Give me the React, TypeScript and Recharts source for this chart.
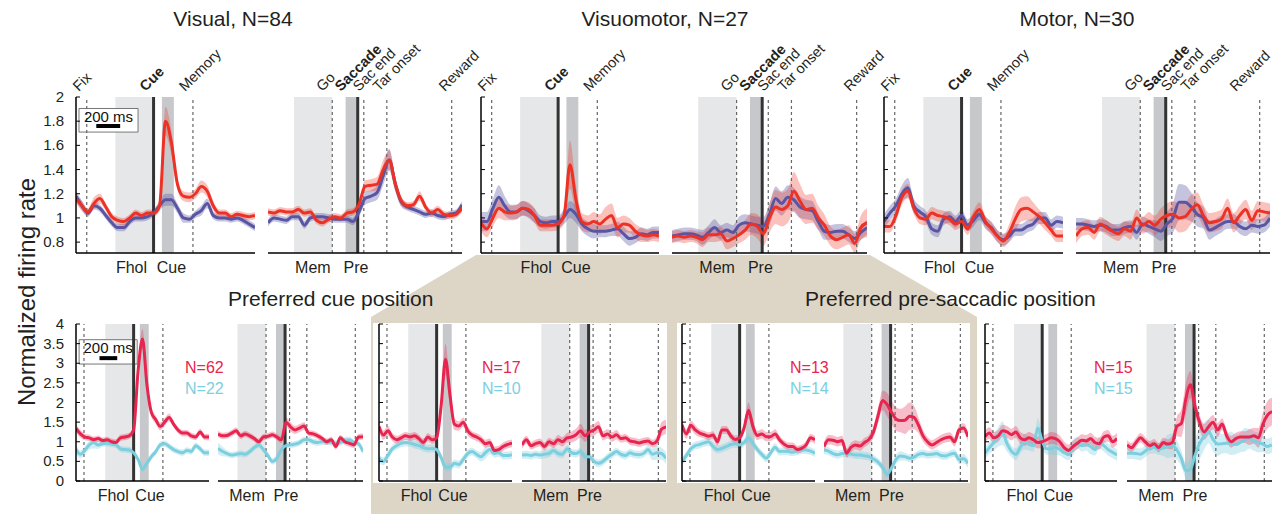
import React from 'react';
import { ComposedChart, Line, Area, XAxis, YAxis, ReferenceLine, ReferenceArea } from 'recharts';

const FONT = '"Liberation Sans", Arial, Helvetica, sans-serif';

// time bins (ms), cue-aligned and saccade-aligned
const cueTimes = [-650, -600, -550, -500, -450, -400, -350, -300, -250, -200, -150, -100, -50, 0, 50, 100, 150, 200, 250, 300, 350, 400, 450, 500, 550, 600, 650, 700, 750, 800, 850];
const sacTimes = [-740, -690, -640, -590, -540, -490, -440, -390, -340, -290, -240, -190, -140, -90, -40, 10, 60, 110, 160, 210, 260, 310, 360, 410, 460, 510, 560, 610, 660, 710, 760, 810, 860];

const topTicks = [0.8, 1, 1.2, 1.4, 1.6, 1.8, 2];
const botTicks = [0, 0.5, 1, 1.5, 2, 2.5, 3, 3.5, 4];

// ---- top row: Visual ----
const visCueRed = [1.16, 1.10, 1.05, 1.12, 1.16, 1.09, 1.01, 0.98, 0.97, 1.00, 1.04, 1.02, 1.04, 1.04, 1.10, 1.80, 1.62, 1.28, 1.18, 1.17, 1.20, 1.26, 1.22, 1.10, 1.04, 1.04, 1.01, 1.03, 1.02, 1.01, 1.02];
const visCueRedSem = [0.04, 0.04, 0.03, 0.05, 0.04, 0.03, 0.03, 0.03, 0.03, 0.03, 0.03, 0.03, 0.03, 0.03, 0.04, 0.12, 0.10, 0.05, 0.04, 0.04, 0.04, 0.05, 0.05, 0.04, 0.03, 0.03, 0.03, 0.03, 0.03, 0.03, 0.03];
const visCueBlue = [1.18, 1.10, 1.04, 1.10, 1.08, 1.02, 0.96, 0.92, 0.92, 0.97, 1.00, 1.00, 1.01, 1.04, 1.10, 1.15, 1.15, 1.08, 1.00, 0.99, 1.03, 1.06, 1.12, 1.02, 1.00, 1.00, 0.99, 1.00, 0.98, 0.95, 0.92];
const visCueBlueSem = [0.04, 0.04, 0.03, 0.03, 0.03, 0.03, 0.03, 0.03, 0.03, 0.03, 0.03, 0.03, 0.03, 0.03, 0.04, 0.05, 0.05, 0.04, 0.04, 0.03, 0.03, 0.04, 0.04, 0.03, 0.03, 0.03, 0.03, 0.03, 0.03, 0.03, 0.03];
const visSacRed = [1.05, 1.04, 1.06, 1.05, 1.05, 1.07, 1.04, 1.05, 0.98, 0.96, 0.99, 1.01, 1.00, 1.04, 1.05, 1.11, 1.26, 1.27, 1.28, 1.40, 1.48, 1.28, 1.14, 1.10, 1.11, 1.18, 1.09, 1.04, 1.07, 1.03, 1.02, 1.03, 1.08];
const visSacRedSem = [0.03, 0.03, 0.03, 0.03, 0.03, 0.03, 0.03, 0.03, 0.03, 0.03, 0.03, 0.03, 0.03, 0.03, 0.03, 0.04, 0.05, 0.05, 0.06, 0.08, 0.08, 0.06, 0.04, 0.03, 0.03, 0.04, 0.03, 0.03, 0.03, 0.03, 0.03, 0.03, 0.03];
const visSacBlue = [0.96, 1.00, 0.99, 0.98, 1.01, 1.01, 0.94, 1.00, 1.01, 1.01, 1.00, 0.99, 0.99, 0.99, 0.97, 1.05, 1.16, 1.18, 1.21, 1.35, 1.48, 1.28, 1.13, 1.09, 1.07, 1.05, 1.03, 1.04, 1.02, 1.01, 1.03, 1.04, 1.11];
const visSacBlueSem = [0.03, 0.03, 0.03, 0.03, 0.03, 0.03, 0.03, 0.03, 0.03, 0.03, 0.03, 0.03, 0.03, 0.03, 0.03, 0.04, 0.05, 0.05, 0.06, 0.08, 0.09, 0.06, 0.04, 0.03, 0.03, 0.03, 0.03, 0.03, 0.03, 0.03, 0.03, 0.03, 0.03];

// ---- top row: Visuomotor ----
const vmCueRed = [0.96, 0.91, 1.00, 1.08, 1.05, 1.04, 1.05, 1.08, 1.07, 1.02, 0.94, 0.94, 0.94, 0.95, 1.02, 1.44, 1.15, 0.97, 0.95, 0.97, 0.95, 0.99, 1.02, 0.92, 0.95, 0.94, 0.89, 0.86, 0.85, 0.86, 0.85];
const vmCueRedSem = [0.07, 0.07, 0.07, 0.08, 0.07, 0.06, 0.06, 0.06, 0.06, 0.06, 0.05, 0.05, 0.05, 0.05, 0.06, 0.20, 0.12, 0.07, 0.07, 0.08, 0.08, 0.10, 0.10, 0.08, 0.07, 0.06, 0.06, 0.06, 0.05, 0.05, 0.05];
const vmCueBlue = [0.97, 0.97, 1.08, 1.17, 1.10, 1.05, 1.05, 1.08, 1.06, 1.02, 0.97, 0.96, 0.97, 0.97, 1.01, 1.07, 1.03, 0.95, 0.91, 0.89, 0.89, 0.89, 0.90, 0.91, 0.87, 0.83, 0.84, 0.87, 0.86, 0.88, 0.88];
const vmCueBlueSem = [0.08, 0.08, 0.08, 0.10, 0.08, 0.06, 0.06, 0.06, 0.06, 0.06, 0.05, 0.05, 0.05, 0.05, 0.06, 0.07, 0.07, 0.06, 0.06, 0.06, 0.05, 0.05, 0.05, 0.06, 0.06, 0.06, 0.05, 0.05, 0.05, 0.05, 0.05];
const vmSacRed = [0.84, 0.85, 0.84, 0.85, 0.84, 0.82, 0.86, 0.86, 0.87, 0.81, 0.83, 0.86, 0.90, 0.95, 0.93, 0.87, 1.00, 1.09, 1.07, 1.10, 1.22, 1.14, 1.07, 1.08, 1.00, 0.94, 0.85, 0.82, 0.84, 0.86, 0.79, 0.92, 0.96];
const vmSacRedSem = [0.05, 0.05, 0.05, 0.05, 0.05, 0.06, 0.06, 0.06, 0.06, 0.07, 0.07, 0.07, 0.08, 0.09, 0.10, 0.10, 0.12, 0.14, 0.14, 0.14, 0.16, 0.14, 0.12, 0.12, 0.10, 0.09, 0.08, 0.08, 0.08, 0.08, 0.08, 0.10, 0.12];
const vmSacBlue = [0.85, 0.86, 0.87, 0.87, 0.86, 0.84, 0.88, 0.92, 0.88, 0.90, 0.88, 0.94, 0.96, 0.95, 0.94, 0.93, 1.03, 1.16, 1.12, 1.17, 1.15, 1.09, 1.07, 1.06, 0.97, 0.89, 0.88, 0.89, 0.89, 0.86, 0.83, 0.88, 0.92];
const vmSacBlueSem = [0.05, 0.05, 0.05, 0.05, 0.05, 0.06, 0.06, 0.07, 0.06, 0.06, 0.06, 0.07, 0.07, 0.07, 0.07, 0.08, 0.09, 0.10, 0.10, 0.10, 0.10, 0.09, 0.08, 0.08, 0.07, 0.07, 0.06, 0.06, 0.06, 0.06, 0.06, 0.06, 0.06];

// ---- top row: Motor ----
const motCueRed = [0.93, 0.93, 1.02, 1.17, 1.22, 1.08, 1.00, 0.99, 1.04, 1.02, 1.01, 0.99, 0.95, 0.97, 0.91, 1.01, 1.07, 0.97, 0.91, 0.85, 0.81, 0.88, 0.99, 1.07, 1.08, 1.05, 1.01, 0.96, 0.90, 0.85, 0.85];
const motCueRedSem = [0.05, 0.05, 0.05, 0.06, 0.06, 0.05, 0.05, 0.05, 0.05, 0.05, 0.05, 0.05, 0.05, 0.05, 0.05, 0.05, 0.06, 0.05, 0.05, 0.05, 0.05, 0.07, 0.10, 0.10, 0.10, 0.08, 0.06, 0.06, 0.05, 0.05, 0.05];
const motCueBlue = [0.97, 1.04, 1.10, 1.20, 1.25, 1.10, 1.05, 1.01, 0.91, 0.89, 0.99, 1.01, 0.97, 1.02, 0.94, 0.98, 1.03, 0.96, 0.92, 0.85, 0.82, 0.85, 0.90, 0.90, 0.93, 0.95, 1.00, 1.00, 0.94, 0.97, 0.96];
const motCueBlueSem = [0.06, 0.06, 0.06, 0.07, 0.08, 0.06, 0.05, 0.05, 0.05, 0.05, 0.05, 0.05, 0.05, 0.05, 0.05, 0.05, 0.05, 0.05, 0.05, 0.05, 0.05, 0.05, 0.05, 0.05, 0.05, 0.05, 0.05, 0.05, 0.05, 0.05, 0.05];
const motSacRed = [0.85, 0.91, 0.92, 0.88, 0.95, 0.92, 0.89, 0.87, 0.91, 0.89, 1.00, 0.94, 0.97, 0.94, 0.99, 1.02, 1.03, 1.00, 1.01, 1.07, 1.11, 1.02, 0.96, 0.97, 0.99, 1.08, 0.96, 1.02, 1.07, 0.98, 1.06, 1.05, 1.04];
const motSacRedSem = [0.06, 0.06, 0.06, 0.06, 0.06, 0.06, 0.06, 0.06, 0.06, 0.07, 0.07, 0.07, 0.08, 0.08, 0.09, 0.10, 0.11, 0.12, 0.12, 0.12, 0.10, 0.09, 0.08, 0.08, 0.08, 0.08, 0.08, 0.08, 0.08, 0.08, 0.08, 0.08, 0.08];
const motSacBlue = [0.95, 0.95, 0.94, 0.93, 0.94, 0.93, 0.90, 0.90, 0.92, 0.93, 0.88, 0.95, 0.93, 0.91, 0.89, 0.95, 1.00, 1.13, 1.13, 1.09, 1.03, 1.00, 0.90, 0.92, 0.95, 0.97, 0.97, 0.93, 0.91, 0.94, 0.93, 0.94, 1.00];
const motSacBlueSem = [0.05, 0.05, 0.05, 0.05, 0.05, 0.05, 0.05, 0.05, 0.05, 0.05, 0.06, 0.06, 0.06, 0.07, 0.08, 0.10, 0.12, 0.15, 0.14, 0.12, 0.10, 0.09, 0.08, 0.07, 0.07, 0.06, 0.06, 0.06, 0.06, 0.06, 0.06, 0.06, 0.07];

// ---- bottom row, group 1 (N=62 / N=22) ----
const b1CueRed = [1.34, 1.20, 1.12, 1.10, 1.05, 1.08, 1.03, 1.05, 1.00, 0.98, 1.10, 1.12, 1.15, 1.30, 2.80, 3.62, 2.45, 1.75, 1.56, 1.39, 1.50, 1.62, 1.45, 1.30, 1.22, 1.22, 1.15, 1.12, 1.25, 1.12, 1.12];
const b1CueRedSem = [0.10, 0.10, 0.08, 0.08, 0.08, 0.08, 0.08, 0.08, 0.08, 0.08, 0.08, 0.08, 0.08, 0.10, 0.20, 0.25, 0.20, 0.12, 0.10, 0.10, 0.10, 0.10, 0.08, 0.08, 0.08, 0.08, 0.08, 0.08, 0.08, 0.08, 0.08];
const b1CueCyan = [0.80, 0.68, 0.78, 0.92, 0.98, 0.92, 0.95, 0.96, 0.94, 0.92, 0.82, 0.80, 0.79, 0.72, 0.55, 0.30, 0.45, 0.62, 0.75, 0.92, 0.95, 0.88, 0.80, 0.75, 0.72, 0.78, 0.75, 0.90, 0.82, 0.72, 0.72];
const b1CueCyanSem = [0.12, 0.10, 0.10, 0.12, 0.15, 0.10, 0.08, 0.08, 0.08, 0.08, 0.08, 0.08, 0.08, 0.08, 0.08, 0.08, 0.08, 0.08, 0.08, 0.08, 0.08, 0.08, 0.08, 0.08, 0.08, 0.08, 0.08, 0.08, 0.08, 0.08, 0.08];
const b1SacRed = [1.20, 1.15, 1.16, 1.22, 1.28, 1.15, 1.20, 1.15, 1.08, 1.00, 1.12, 1.14, 1.18, 1.12, 1.05, 1.50, 1.38, 1.30, 1.35, 1.40, 1.22, 1.20, 1.15, 1.08, 1.00, 1.05, 0.88, 1.10, 1.00, 0.96, 0.92, 1.12, 1.13];
const b1SacRedSem = [0.08, 0.08, 0.08, 0.08, 0.08, 0.08, 0.08, 0.08, 0.08, 0.08, 0.08, 0.08, 0.08, 0.08, 0.08, 0.12, 0.12, 0.10, 0.10, 0.10, 0.08, 0.08, 0.08, 0.08, 0.08, 0.08, 0.08, 0.08, 0.08, 0.08, 0.08, 0.08, 0.08];
const b1SacCyan = [0.83, 0.75, 0.70, 0.66, 0.68, 0.70, 0.68, 0.75, 0.85, 0.92, 0.80, 0.65, 0.50, 0.58, 0.80, 0.90, 0.92, 0.94, 0.98, 1.05, 1.05, 1.00, 0.98, 1.00, 1.00, 0.98, 0.96, 0.98, 1.04, 1.05, 0.98, 0.95, 0.75];
const b1SacCyanSem = [0.15, 0.12, 0.08, 0.08, 0.08, 0.08, 0.08, 0.08, 0.08, 0.08, 0.08, 0.08, 0.08, 0.08, 0.08, 0.08, 0.08, 0.08, 0.08, 0.08, 0.08, 0.08, 0.08, 0.08, 0.08, 0.08, 0.08, 0.08, 0.08, 0.08, 0.08, 0.08, 0.08];

// ---- bottom row, group 2 (N=17 / N=10) ----
const b2CueRed = [1.39, 1.17, 1.28, 1.12, 1.05, 1.10, 1.15, 1.12, 1.15, 1.08, 0.98, 1.12, 1.05, 1.10, 1.90, 3.10, 2.20, 1.45, 1.40, 1.50, 1.28, 1.17, 1.12, 1.05, 0.95, 0.98, 0.78, 0.80, 0.88, 0.93, 0.96];
const b2CueRedSem = [0.12, 0.12, 0.12, 0.10, 0.10, 0.10, 0.10, 0.10, 0.10, 0.10, 0.10, 0.10, 0.10, 0.12, 0.25, 0.40, 0.30, 0.15, 0.12, 0.12, 0.12, 0.10, 0.10, 0.10, 0.10, 0.10, 0.10, 0.10, 0.10, 0.10, 0.10];
const b2CueCyan = [0.58, 0.50, 0.65, 0.82, 0.90, 0.96, 0.98, 0.97, 0.93, 0.90, 0.85, 0.82, 0.83, 0.80, 0.60, 0.35, 0.35, 0.45, 0.42, 0.55, 0.70, 0.75, 0.68, 0.62, 0.72, 0.80, 0.70, 0.72, 0.65, 0.65, 0.67];
const b2CueCyanSem = [0.10, 0.10, 0.10, 0.10, 0.10, 0.10, 0.10, 0.10, 0.10, 0.10, 0.10, 0.10, 0.10, 0.10, 0.10, 0.10, 0.10, 0.10, 0.10, 0.10, 0.10, 0.10, 0.10, 0.12, 0.15, 0.12, 0.10, 0.10, 0.10, 0.10, 0.10];
const b2SacRed = [0.92, 1.05, 0.90, 0.95, 0.98, 0.88, 1.00, 0.95, 1.05, 1.00, 1.10, 1.12, 1.18, 1.28, 1.15, 1.25, 1.30, 1.38, 1.15, 1.20, 1.12, 1.18, 1.08, 1.10, 1.02, 1.00, 0.97, 1.00, 1.02, 0.95, 1.02, 1.32, 1.38];
const b2SacRedSem = [0.10, 0.10, 0.10, 0.10, 0.10, 0.10, 0.10, 0.10, 0.12, 0.12, 0.12, 0.14, 0.15, 0.18, 0.15, 0.15, 0.15, 0.15, 0.12, 0.12, 0.12, 0.12, 0.10, 0.10, 0.10, 0.10, 0.10, 0.10, 0.10, 0.10, 0.12, 0.18, 0.18];
const b2SacCyan = [0.66, 0.67, 0.65, 0.68, 0.66, 0.68, 0.70, 0.78, 0.70, 0.68, 0.82, 0.72, 0.70, 0.75, 0.62, 0.62, 0.50, 0.45, 0.50, 0.60, 0.68, 0.75, 0.68, 0.65, 0.72, 0.68, 0.67, 0.70, 0.80, 0.68, 0.72, 0.70, 0.58];
const b2SacCyanSem = [0.10, 0.10, 0.10, 0.10, 0.10, 0.10, 0.10, 0.10, 0.10, 0.10, 0.10, 0.10, 0.10, 0.10, 0.10, 0.10, 0.10, 0.10, 0.10, 0.10, 0.10, 0.10, 0.10, 0.10, 0.10, 0.10, 0.10, 0.10, 0.12, 0.15, 0.18, 0.15, 0.15];

// ---- bottom row, group 3 (N=13 / N=14) ----
const b3CueRed = [1.43, 1.20, 1.42, 1.30, 1.22, 1.18, 1.14, 1.17, 1.00, 1.30, 1.30, 1.15, 1.06, 1.10, 1.35, 1.80, 1.39, 1.16, 1.20, 1.13, 1.13, 1.20, 1.05, 0.94, 0.88, 0.88, 0.80, 0.83, 0.92, 1.10, 1.05];
const b3CueRedSem = [0.15, 0.12, 0.12, 0.12, 0.10, 0.10, 0.10, 0.10, 0.10, 0.10, 0.10, 0.10, 0.10, 0.10, 0.12, 0.20, 0.15, 0.12, 0.12, 0.12, 0.12, 0.12, 0.10, 0.10, 0.10, 0.10, 0.10, 0.10, 0.10, 0.10, 0.10];
const b3CueCyan = [0.50, 0.65, 0.82, 0.90, 0.93, 0.97, 1.00, 0.88, 0.80, 0.83, 0.88, 0.93, 0.95, 0.92, 0.98, 1.10, 0.96, 0.80, 0.68, 0.58, 0.72, 0.86, 0.75, 0.76, 0.75, 0.73, 0.76, 0.79, 0.79, 0.76, 0.71];
const b3CueCyanSem = [0.10, 0.10, 0.10, 0.10, 0.10, 0.10, 0.10, 0.10, 0.10, 0.10, 0.10, 0.10, 0.10, 0.10, 0.10, 0.14, 0.10, 0.10, 0.10, 0.10, 0.10, 0.10, 0.10, 0.10, 0.10, 0.10, 0.10, 0.10, 0.10, 0.10, 0.10];
const b3SacRed = [0.88, 1.05, 1.04, 1.00, 1.03, 0.71, 0.86, 0.92, 0.89, 0.98, 1.06, 1.25, 1.66, 2.05, 1.95, 1.75, 1.58, 1.54, 1.55, 1.65, 1.62, 1.42, 1.15, 1.00, 0.92, 0.98, 1.05, 1.10, 1.12, 1.00, 1.30, 1.35, 1.13];
const b3SacRedSem = [0.12, 0.12, 0.12, 0.12, 0.12, 0.12, 0.12, 0.12, 0.12, 0.12, 0.12, 0.15, 0.20, 0.25, 0.30, 0.30, 0.30, 0.30, 0.35, 0.35, 0.30, 0.20, 0.15, 0.12, 0.12, 0.12, 0.12, 0.12, 0.12, 0.12, 0.12, 0.12, 0.12];
const b3SacCyan = [0.79, 0.76, 0.70, 0.67, 0.70, 0.71, 0.69, 0.66, 0.66, 0.64, 0.62, 0.56, 0.48, 0.35, 0.17, 0.33, 0.55, 0.64, 0.62, 0.58, 0.61, 0.68, 0.70, 0.67, 0.68, 0.70, 0.65, 0.64, 0.68, 0.71, 0.55, 0.57, 0.45];
const b3SacCyanSem = [0.10, 0.10, 0.10, 0.10, 0.10, 0.10, 0.10, 0.10, 0.10, 0.10, 0.10, 0.10, 0.10, 0.10, 0.10, 0.10, 0.12, 0.12, 0.10, 0.10, 0.10, 0.10, 0.10, 0.10, 0.10, 0.10, 0.10, 0.10, 0.10, 0.10, 0.12, 0.12, 0.12];

// ---- bottom row, group 4 (N=15 / N=15) ----
const b4CueRed = [1.13, 1.22, 1.10, 1.15, 1.28, 1.25, 1.18, 1.25, 1.10, 1.05, 1.10, 1.05, 0.98, 1.00, 1.05, 1.10, 1.08, 1.00, 0.85, 0.78, 0.88, 0.96, 1.04, 1.02, 1.08, 0.98, 0.95, 1.12, 1.15, 1.00, 1.08];
const b4CueRedSem = [0.15, 0.15, 0.15, 0.15, 0.15, 0.15, 0.15, 0.15, 0.15, 0.15, 0.15, 0.15, 0.15, 0.15, 0.15, 0.15, 0.15, 0.15, 0.15, 0.15, 0.15, 0.15, 0.15, 0.15, 0.15, 0.15, 0.15, 0.15, 0.15, 0.15, 0.15];
const b4CueCyan = [0.71, 0.85, 0.98, 1.12, 1.22, 0.95, 0.76, 0.68, 0.85, 1.00, 0.93, 0.90, 1.35, 1.02, 0.82, 0.82, 0.86, 0.80, 0.72, 0.68, 0.85, 0.98, 0.90, 0.93, 0.88, 0.80, 0.98, 0.90, 0.80, 0.73, 0.66];
const b4CueCyanSem = [0.15, 0.15, 0.20, 0.25, 0.30, 0.20, 0.15, 0.15, 0.15, 0.20, 0.15, 0.15, 0.25, 0.20, 0.15, 0.15, 0.20, 0.15, 0.15, 0.15, 0.20, 0.15, 0.15, 0.15, 0.20, 0.15, 0.15, 0.15, 0.15, 0.15, 0.15];
const b4SacRed = [0.92, 0.85, 0.98, 1.10, 1.00, 0.90, 0.95, 0.85, 0.98, 0.94, 0.98, 1.39, 1.47, 2.10, 2.45, 1.90, 1.50, 1.25, 1.38, 1.50, 1.30, 1.45, 1.15, 1.00, 1.08, 1.12, 1.12, 1.12, 1.15, 1.10, 1.45, 1.68, 1.77];
const b4SacRedSem = [0.12, 0.12, 0.12, 0.12, 0.12, 0.12, 0.12, 0.12, 0.12, 0.12, 0.18, 0.25, 0.35, 0.40, 0.35, 0.25, 0.20, 0.20, 0.20, 0.18, 0.18, 0.15, 0.15, 0.15, 0.15, 0.15, 0.15, 0.20, 0.20, 0.25, 0.30, 0.35, 0.35];
const b4SacCyan = [0.71, 0.71, 0.70, 0.68, 0.76, 0.84, 0.86, 0.81, 0.84, 0.88, 0.91, 0.79, 0.57, 0.26, 0.30, 0.65, 0.95, 1.14, 1.26, 1.06, 0.94, 0.95, 0.96, 0.96, 0.93, 0.98, 1.05, 1.08, 1.02, 0.98, 0.94, 0.88, 0.92];
const b4SacCyanSem = [0.15, 0.15, 0.15, 0.15, 0.15, 0.15, 0.15, 0.15, 0.20, 0.30, 0.30, 0.25, 0.20, 0.20, 0.30, 0.40, 0.40, 0.35, 0.30, 0.30, 0.30, 0.25, 0.25, 0.30, 0.25, 0.25, 0.30, 0.25, 0.25, 0.25, 0.20, 0.20, 0.20];

// task events
const cueEvents = [
  { t: -560, name: 'Fix', solid: false, dx: -8 },
  { t: 0, name: 'Cue', solid: true, dx: -8 },
  { t: 330, name: 'Memory', solid: false, dx: -8 },
];
const sacEvents = [
  { t: -210, name: 'Go', solid: false, dx: -10 },
  { t: 0, name: 'Saccade', solid: true, dx: -17 },
  { t: 50, name: 'Sac end', solid: false, dx: -5 },
  { t: 240, name: 'Tar onset', solid: false, dx: -8 },
  { t: 775, name: 'Reward', solid: false, dx: -7 },
];
const cueWindows = { light: [-320, -5], dark: [70, 170] };
const sacWindows = { light: [-525, -210], dark: [-100, -5] };

const RED = '#ed3124';
const BLUE = '#5a55a3';
const CRIMSON = '#e8254f';
const CYAN = '#7ccfdf';

function YTick(props: any) {
  const { x, y, payload, show } = props;
  return (
    <g>
      <line x1={x + 8} x2={x + 12} y1={y} y2={y} stroke="#000" strokeWidth={1} />
      {show && (
        <text x={x - 4} y={y} dy={5} textAnchor="end" fontSize={15} fill="#231f20">
          {String(payload.value)}
        </text>
      )}
    </g>
  );
}

function eventLabel(name: string, dx: number, bold: boolean) {
  return {
    content: (p: any) => {
      const vb = p.viewBox || {};
      const lx = (vb.x ?? 0) + dx;
      const ly = (vb.y ?? 0) - 5;
      return (
        <text transform={`translate(${lx},${ly}) rotate(-45)`} fontSize={14.5} fontWeight={bold ? 700 : 400} fill="#231f20">
          {name}
        </text>
      );
    },
  };
}

type PanelProps = {
  x: number;
  w: number;
  row: 'top' | 'bottom';
  kind: 'cue' | 'sac';
  red: number[];
  redSem: number[];
  other: number[];
  otherSem: number[];
  yLabels?: boolean;
  scaleBar?: boolean;
  lastDx?: number;
};

function Panel({ x, w, row, kind, red, redSem, other, otherSem, yLabels, scaleBar, lastDx }: PanelProps) {
  const top = row === 'top';
  const isCue = kind === 'cue';
  const y = top ? 97 : 324;
  const h = top ? 156 : 157;
  const padL = 45;
  const padR = 50;
  const padT = top ? 70 : 10;
  const padB = 34;
  const times = isCue ? cueTimes : sacTimes;
  const xDom = isCue ? [-650, 850] : [-740, 860];
  const yDom = top ? [0.71, 2] : [0, 4];
  const yTicks = top ? topTicks : botTicks;
  const events = isCue ? cueEvents : sacEvents;
  const win = isCue ? cueWindows : sacWindows;
  const xTicks = top ? (isCue ? [-185, 150] : [-370, -15]) : isCue ? [-230, 185] : [-420, 10];
  const xNames = isCue ? ['Fhol', 'Cue'] : ['Mem', 'Pre'];
  const redC = top ? RED : CRIMSON;
  const otherC = top ? BLUE : CYAN;

  const rows = times.map((t, i) => ({
    t,
    r: red[i],
    rB: [red[i] - redSem[i], red[i] + redSem[i]],
    o: other[i],
    oB: [other[i] - otherSem[i], other[i] + otherSem[i]],
  }));

  return (
    <div style={{ position: 'absolute', left: x - padL, top: y - padT }}>
      <ComposedChart
        width={w + padL + padR}
        height={h + padT + padB}
        data={rows}
        margin={{ top: padT, right: padR, bottom: 0, left: isCue ? 0 : padL }}
      >
        <XAxis
          type="number"
          dataKey="t"
          domain={xDom}
          allowDataOverflow
          ticks={xTicks}
          interval={0}
          tickFormatter={(v: number) => (v === xTicks[0] ? xNames[0] : xNames[1])}
          tickLine={false}
          tickSize={5}
          tickMargin={4}
          axisLine={{ stroke: '#000', strokeWidth: 1.5 }}
          height={padB}
          tick={{ fontSize: 16, fill: '#231f20' }}
        />
        {isCue ? (
          <YAxis
            type="number"
            domain={yDom}
            allowDataOverflow
            ticks={yTicks}
            interval={0}
            width={padL}
            tickSize={0}
            tickMargin={8}
            tickLine={false}
            axisLine={{ stroke: '#000', strokeWidth: 1.5 }}
            tick={(p: any) => <YTick {...p} show={!!yLabels} />}
          />
        ) : (
          <YAxis hide type="number" domain={yDom} allowDataOverflow />
        )}
        <ReferenceArea x1={win.light[0]} x2={win.light[1]} fill="#e6e7e8" fillOpacity={1} stroke="none" />
        <ReferenceArea x1={win.dark[0]} x2={win.dark[1]} fill="#c7c8cb" fillOpacity={1} stroke="none" />
        {scaleBar && (
          <ReferenceArea
            x1={top ? -625 : -615}
            x2={top ? -130 : 40}
            y1={top ? 1.71 : 2.98}
            y2={top ? 1.905 : 3.6}
            fill="#fff"
            fillOpacity={1}
            stroke="#777"
            strokeWidth={1}
            label={{ value: '200 ms', position: 'insideTop', offset: 3, fontSize: 15, fill: '#111' }}
          />
        )}
        {scaleBar && (
          <ReferenceLine
            segment={top ? [{ x: -480, y: 1.76 }, { x: -280, y: 1.76 }] : [{ x: -385, y: 3.13 }, { x: -185, y: 3.13 }]}
            stroke="#000"
            strokeWidth={4}
          />
        )}
        {events.map((e, i) => (
          <ReferenceLine
            key={e.name}
            x={e.t}
            stroke={e.solid ? '#333' : '#666'}
            strokeWidth={e.solid ? 3 : 1.2}
            strokeDasharray={e.solid ? undefined : '3 3'}
            label={
              top
                ? eventLabel(e.name, i === events.length - 1 && lastDx !== undefined ? lastDx : e.dx, e.solid)
                : undefined
            }
          />
        ))}
        <Area dataKey="oB" type="monotone" stroke="none" fill={otherC} fillOpacity={0.35} isAnimationActive={false} activeDot={false} />
        <Area dataKey="rB" type="monotone" stroke="none" fill={redC} fillOpacity={0.3} isAnimationActive={false} activeDot={false} />
        <Line dataKey="o" type="monotone" stroke={otherC} strokeWidth={3} dot={false} activeDot={false} isAnimationActive={false} />
        <Line dataKey="r" type="monotone" stroke={redC} strokeWidth={3} dot={false} activeDot={false} isAnimationActive={false} />
      </ComposedChart>
    </div>
  );
}

const abs = (s: React.CSSProperties): React.CSSProperties => ({ position: 'absolute', whiteSpace: 'nowrap', ...s });

export default function App() {
  return (
    <div
      style={{
        position: 'absolute',
        left: 0,
        top: 0,
        width: 1284,
        height: 514,
        overflow: 'hidden',
        background: '#fff',
        fontFamily: FONT,
        color: '#231f20',
      }}
    >
      <svg style={{ position: 'absolute', left: 0, top: 0 }} width={1284} height={514}>
        <polygon points="476,255 870,255 977,317 977,514 371,514 371,317" fill="#ddd6c7" />
      </svg>
      <div style={abs({ left: 373, top: 323, width: 294, height: 160, background: '#fff' })} />
      <div style={abs({ left: 677, top: 323, width: 293, height: 160, background: '#fff' })} />

      <div style={abs({ left: 83, top: 7, width: 300, textAlign: 'center', fontSize: 21, lineHeight: '24px' })}>Visual, N=84</div>
      <div style={abs({ left: 515, top: 7, width: 300, textAlign: 'center', fontSize: 21, lineHeight: '24px' })}>Visuomotor, N=27</div>
      <div style={abs({ left: 927, top: 7, width: 300, textAlign: 'center', fontSize: 21, lineHeight: '24px' })}>Motor, N=30</div>
      <div style={abs({ left: 228, top: 287, fontSize: 21, lineHeight: '24px' })}>Preferred cue position</div>
      <div style={abs({ left: 805, top: 287, fontSize: 21, lineHeight: '24px' })}>Preferred pre-saccadic position</div>
      <div style={abs({ left: 27, top: 292, fontSize: 24, transform: 'translate(-50%, -50%) rotate(-90deg)' })}>Normalized firing rate</div>

      <Panel x={76} w={179} row="top" kind="cue" red={visCueRed} redSem={visCueRedSem} other={visCueBlue} otherSem={visCueBlueSem} yLabels scaleBar />
      <Panel x={268} w={194} row="top" kind="sac" red={visSacRed} redSem={visSacRedSem} other={visSacBlue} otherSem={visSacBlueSem} />
      <Panel x={481} w={178} row="top" kind="cue" red={vmCueRed} redSem={vmCueRedSem} other={vmCueBlue} otherSem={vmCueBlueSem} />
      <Panel x={672} w={195} row="top" kind="sac" red={vmSacRed} redSem={vmSacRedSem} other={vmSacBlue} otherSem={vmSacBlueSem} />
      <Panel x={884} w={179} row="top" kind="cue" red={motCueRed} redSem={motCueRedSem} other={motCueBlue} otherSem={motCueBlueSem} />
      <Panel x={1076} w={194} row="top" kind="sac" red={motSacRed} redSem={motSacRedSem} other={motSacBlue} otherSem={motSacBlueSem} lastDx={-24} />

      <Panel x={76} w={133} row="bottom" kind="cue" red={b1CueRed} redSem={b1CueRedSem} other={b1CueCyan} otherSem={b1CueCyanSem} yLabels scaleBar />
      <Panel x={218} w={145} row="bottom" kind="sac" red={b1SacRed} redSem={b1SacRedSem} other={b1SacCyan} otherSem={b1SacCyanSem} />
      <Panel x={379} w={133} row="bottom" kind="cue" red={b2CueRed} redSem={b2CueRedSem} other={b2CueCyan} otherSem={b2CueCyanSem} />
      <Panel x={522} w={144} row="bottom" kind="sac" red={b2SacRed} redSem={b2SacRedSem} other={b2SacCyan} otherSem={b2SacCyanSem} />
      <Panel x={682} w={133} row="bottom" kind="cue" red={b3CueRed} redSem={b3CueRedSem} other={b3CueCyan} otherSem={b3CueCyanSem} />
      <Panel x={824} w={144} row="bottom" kind="sac" red={b3SacRed} redSem={b3SacRedSem} other={b3SacCyan} otherSem={b3SacCyanSem} />
      <Panel x={985} w={132} row="bottom" kind="cue" red={b4CueRed} redSem={b4CueRedSem} other={b4CueCyan} otherSem={b4CueCyanSem} />
      <Panel x={1127} w={145} row="bottom" kind="sac" red={b4SacRed} redSem={b4SacRedSem} other={b4SacCyan} otherSem={b4SacCyanSem} />

      <div style={abs({ left: 185, top: 360, fontSize: 16, lineHeight: '16px', color: CRIMSON })}>N=62</div>
      <div style={abs({ left: 185, top: 381, fontSize: 16, lineHeight: '16px', color: CYAN })}>N=22</div>
      <div style={abs({ left: 482, top: 360, fontSize: 16, lineHeight: '16px', color: CRIMSON })}>N=17</div>
      <div style={abs({ left: 482, top: 381, fontSize: 16, lineHeight: '16px', color: CYAN })}>N=10</div>
      <div style={abs({ left: 790, top: 360, fontSize: 16, lineHeight: '16px', color: CRIMSON })}>N=13</div>
      <div style={abs({ left: 790, top: 381, fontSize: 16, lineHeight: '16px', color: CYAN })}>N=14</div>
      <div style={abs({ left: 1094, top: 360, fontSize: 16, lineHeight: '16px', color: CRIMSON })}>N=15</div>
      <div style={abs({ left: 1094, top: 381, fontSize: 16, lineHeight: '16px', color: CYAN })}>N=15</div>
    </div>
  );
}
